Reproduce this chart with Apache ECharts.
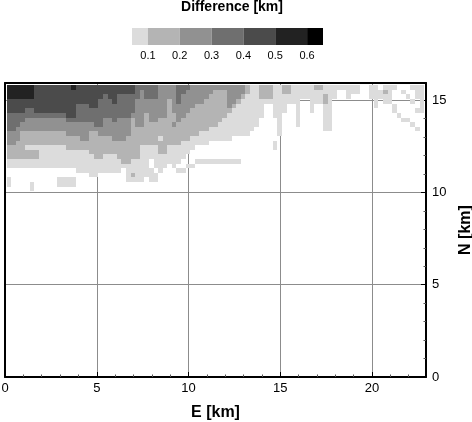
<!DOCTYPE html>
<html>
<head>
<meta charset="utf-8">
<style>
  html, body { margin: 0; padding: 0; background: #fff; }
  #chart { width: 472px; height: 422px; }
</style>
<script src="https://cdn.jsdelivr.net/npm/echarts@6/dist/echarts.min.js"></script>
</head>
<body>
<div id="chart"></div>
<script>
// how many cells down from the top of each column reach at least that shade
const depth1 = [18,18,18,18,18,18,18,18,18,18,18,18,18,18,18,19,19,19,20,20,19,19,19,19,19,18,21,21,21,21,20,21,21,19,18,17,18,17,16,15,14,13,13,13,12,12,12,12,12,11,11,11,11,10,9,7,4,4,7,11,6,4,4,9,3,3,6,4,4,10,10,3,1,1,3,2,2,0,0,3,5]
const depth2 = [16,16,16,16,16,16,16,13,13,13,13,13,13,14,14,14,14,14,15,16,16,15,15,15,16,17,17,16,16,13,13,13,13,15,15,13,13,13,12,12,11,11,10,10,9,9,8,7,6,5,4,3,2,0,0,3,3,3,0,0,2,2,0,0,0,0,0,1,1]
const depth3 = [13,13,12,10,10,10,10,10,10,10,10,10,10,11,11,11,12,12,10,10,11,11,11,12,12,12,11,7,9,9,6,8,8,7,7,3,6,8,7,6,5,4,4,3,2,1,1,1,5,4,3,2]
const depth4 = [10,10,9,8,7,7,7,7,7,7,7,7,7,8,8,8,8,8,8,9,9,7,7,8,7,7,7,6,3,1,3,3,3,0,0,0,0,4,2,1]
const depth5 = [6,6,6,6,5,5,6,6,6,6,6,6,6,7,7,4,4,4,5,5,3,2,3,4,2,2,2,2]
const depth6 = [3,3,3,3,3,3,0,0,0,0,0,0,0,0,1]

// stray cells that do not follow the column depths: [column, row, shade]
const strayCells = [
  [4,13,1],[5,13,1],[6,13,1],[33,11,1],[36,8,3],[27,19,2],
  [31,16,0],[31,17,0],[32,18,0],
  [0,20,1],[0,21,1],[5,21,1],[5,22,1],
  [11,20,1],[12,20,1],[13,20,1],[14,20,1],[11,21,1],[12,21,1],[13,21,1],[14,21,1],
  [37,18,1],[38,18,1],[39,17,1],[40,17,1],
  [41,16,1],[42,16,1],[43,16,1],[44,16,1],[45,16,1],[46,16,1],[47,16,1],[48,16,1],[49,16,1],[50,16,1],
  [58,12,1],[58,13,1],[69,2,2],[69,3,2],
  [81,1,1],[81,2,1],[82,0,1],[82,1,2],[82,2,1],[82,3,1],[83,0,1],[83,1,1],[83,2,1],[83,3,1],
  [84,0,1],[84,4,1],[84,5,1],[85,6,1],[86,1,1],[86,7,1],[87,2,1],[87,7,1],
  [88,0,1],[88,3,1],[88,8,1],[89,0,1],[89,1,1],[89,2,1],[89,5,1],[89,9,1],
  [90,0,1],[90,1,1],[90,2,1],[90,3,1],[90,4,1],[90,5,1]
]

const shades = ['#dcdcdc', '#b4b4b4', '#919191', '#6f6f6f', '#4b4b4b', '#222222', '#000000']
const legendBreaks = [0.05, 0.1, 0.2, 0.3, 0.4, 0.5, 0.6, 0.65]
const legendTicks = [0.1, 0.2, 0.3, 0.4, 0.5, 0.6]
const eTicks = [0, 5, 10, 15, 20]
const nTicks = [0, 5, 10, 15]

const columns = 91
const rows = 23
const cellSize = 0.25
const firstE = 0.093
const topN = 15.81

const depths = [depth1, depth2, depth3, depth4, depth5, depth6]
const shadeAt = {}
for (let c = 0; c < columns; c++) {
  for (let r = 0; r < rows; r++) {
    let level = 0
    depths.forEach((d) => {
      if (r < (d[c] || 0)) level++
    })
    shadeAt[c + '_' + r] = level
  }
}
strayCells.forEach((s) => {
  shadeAt[s[0] + '_' + s[1]] = s[2]
})

const cellData = []
Object.keys(shadeAt).forEach((key) => {
  if (shadeAt[key] > 0) {
    const [c, r] = key.split('_').map(Number)
    cellData.push([firstE + c * cellSize, topN - r * cellSize, shadeAt[key]])
  }
})

const legendData = []
for (let i = 0; i < shades.length; i++) {
  legendData.push([legendBreaks[i], legendBreaks[i + 1], i + 1])
}

const drawCell = (params, api) => {
  const a = api.coord([api.value(0), api.value(1)])
  const b = api.coord([api.value(0) + cellSize, api.value(1) - cellSize])
  const x = Math.round(a[0])
  const y = Math.round(a[1])
  return {
    type: 'rect',
    shape: { x: x, y: y, width: Math.round(b[0]) - x, height: Math.round(b[1]) - y },
    style: { fill: shades[api.value(2) - 1] }
  }
}

const drawLegend = (params, api) => {
  const a = api.coord([api.value(0), 1])
  const b = api.coord([api.value(1), 0])
  return {
    type: 'rect',
    shape: { x: a[0], y: a[1], width: b[0] - a[0], height: b[1] - a[1] },
    style: { fill: shades[api.value(2) - 1] }
  }
}

const labelFont = { fontFamily: 'Liberation Sans', color: '#000' }
const boxLine = { show: true, onZero: false, lineStyle: { color: '#000', width: 2 } }
const majorTick = { show: true, inside: true, length: 5, lineStyle: { color: '#000', width: 1 } }
const smallTick = { show: true, splitNumber: 5, length: 2.5, lineStyle: { color: '#555', width: 1 } }
const gridLine = { show: true, lineStyle: { color: '#8c8c8c', width: 1 } }

const chart = echarts.init(document.getElementById('chart'), null, { renderer: 'canvas' })
chart.setOption({
  animation: false,
  backgroundColor: '#fff',
  title: {
    text: 'Difference [km]',
    left: 232,
    top: 0,
    padding: 0,
    textAlign: 'center',
    textStyle: { fontFamily: 'Liberation Sans', fontWeight: 'bold', fontSize: 14, color: '#000' }
  },
  grid: [
    { left: 5, right: 46, top: 83, bottom: 45, outerBoundsMode: 'none' },
    { left: 132, top: 28, width: 191, height: 17, outerBoundsMode: 'none' }
  ],
  xAxis: [
    {
      type: 'value', gridIndex: 0, position: 'bottom', min: 0, max: 22.94, interval: 5,
      name: 'E [km]', nameLocation: 'middle', nameGap: 28,
      nameTextStyle: { fontFamily: 'Liberation Sans', fontWeight: 'bold', fontSize: 16, color: '#000' },
      axisLine: boxLine, axisTick: majorTick, minorTick: smallTick, splitLine: gridLine,
      axisLabel: { ...labelFont, fontSize: 13, margin: 5, customValues: eTicks }
    },
    {
      type: 'value', gridIndex: 0, position: 'top', min: 0, max: 22.94, interval: 5,
      axisLine: boxLine, axisTick: { show: false },
      splitLine: { show: false }, axisLabel: { show: false }
    },
    {
      type: 'value', gridIndex: 1, min: 0.05, max: 0.65,
      axisLine: { show: false }, axisTick: { show: false }, splitLine: { show: false },
      axisLabel: {
        ...labelFont, fontSize: 11, margin: 5, customValues: legendTicks,
        formatter: (v) => v.toFixed(1)
      }
    }
  ],
  yAxis: [
    {
      type: 'value', gridIndex: 0, position: 'right', min: 0, max: 15.93, interval: 5,
      name: 'N [km]', nameLocation: 'middle', nameGap: 27, nameRotate: 90,
      nameTextStyle: { fontFamily: 'Liberation Sans', fontWeight: 'bold', fontSize: 16, color: '#000' },
      axisLine: boxLine, axisTick: majorTick, minorTick: smallTick, splitLine: gridLine,
      axisLabel: { ...labelFont, fontSize: 13, margin: 6, customValues: nTicks }
    },
    {
      type: 'value', gridIndex: 0, position: 'left', min: 0, max: 15.93, interval: 5,
      axisLine: boxLine, axisTick: { show: false },
      splitLine: { show: false }, axisLabel: { show: false }
    },
    {
      type: 'value', gridIndex: 1, min: 0, max: 1, show: false
    }
  ],
  series: [
    {
      type: 'custom', xAxisIndex: 0, yAxisIndex: 0, data: cellData,
      renderItem: drawCell, silent: true
    },
    {
      type: 'custom', xAxisIndex: 2, yAxisIndex: 2, data: legendData,
      renderItem: drawLegend, silent: true
    }
  ]
})
</script>
</body>
</html>
